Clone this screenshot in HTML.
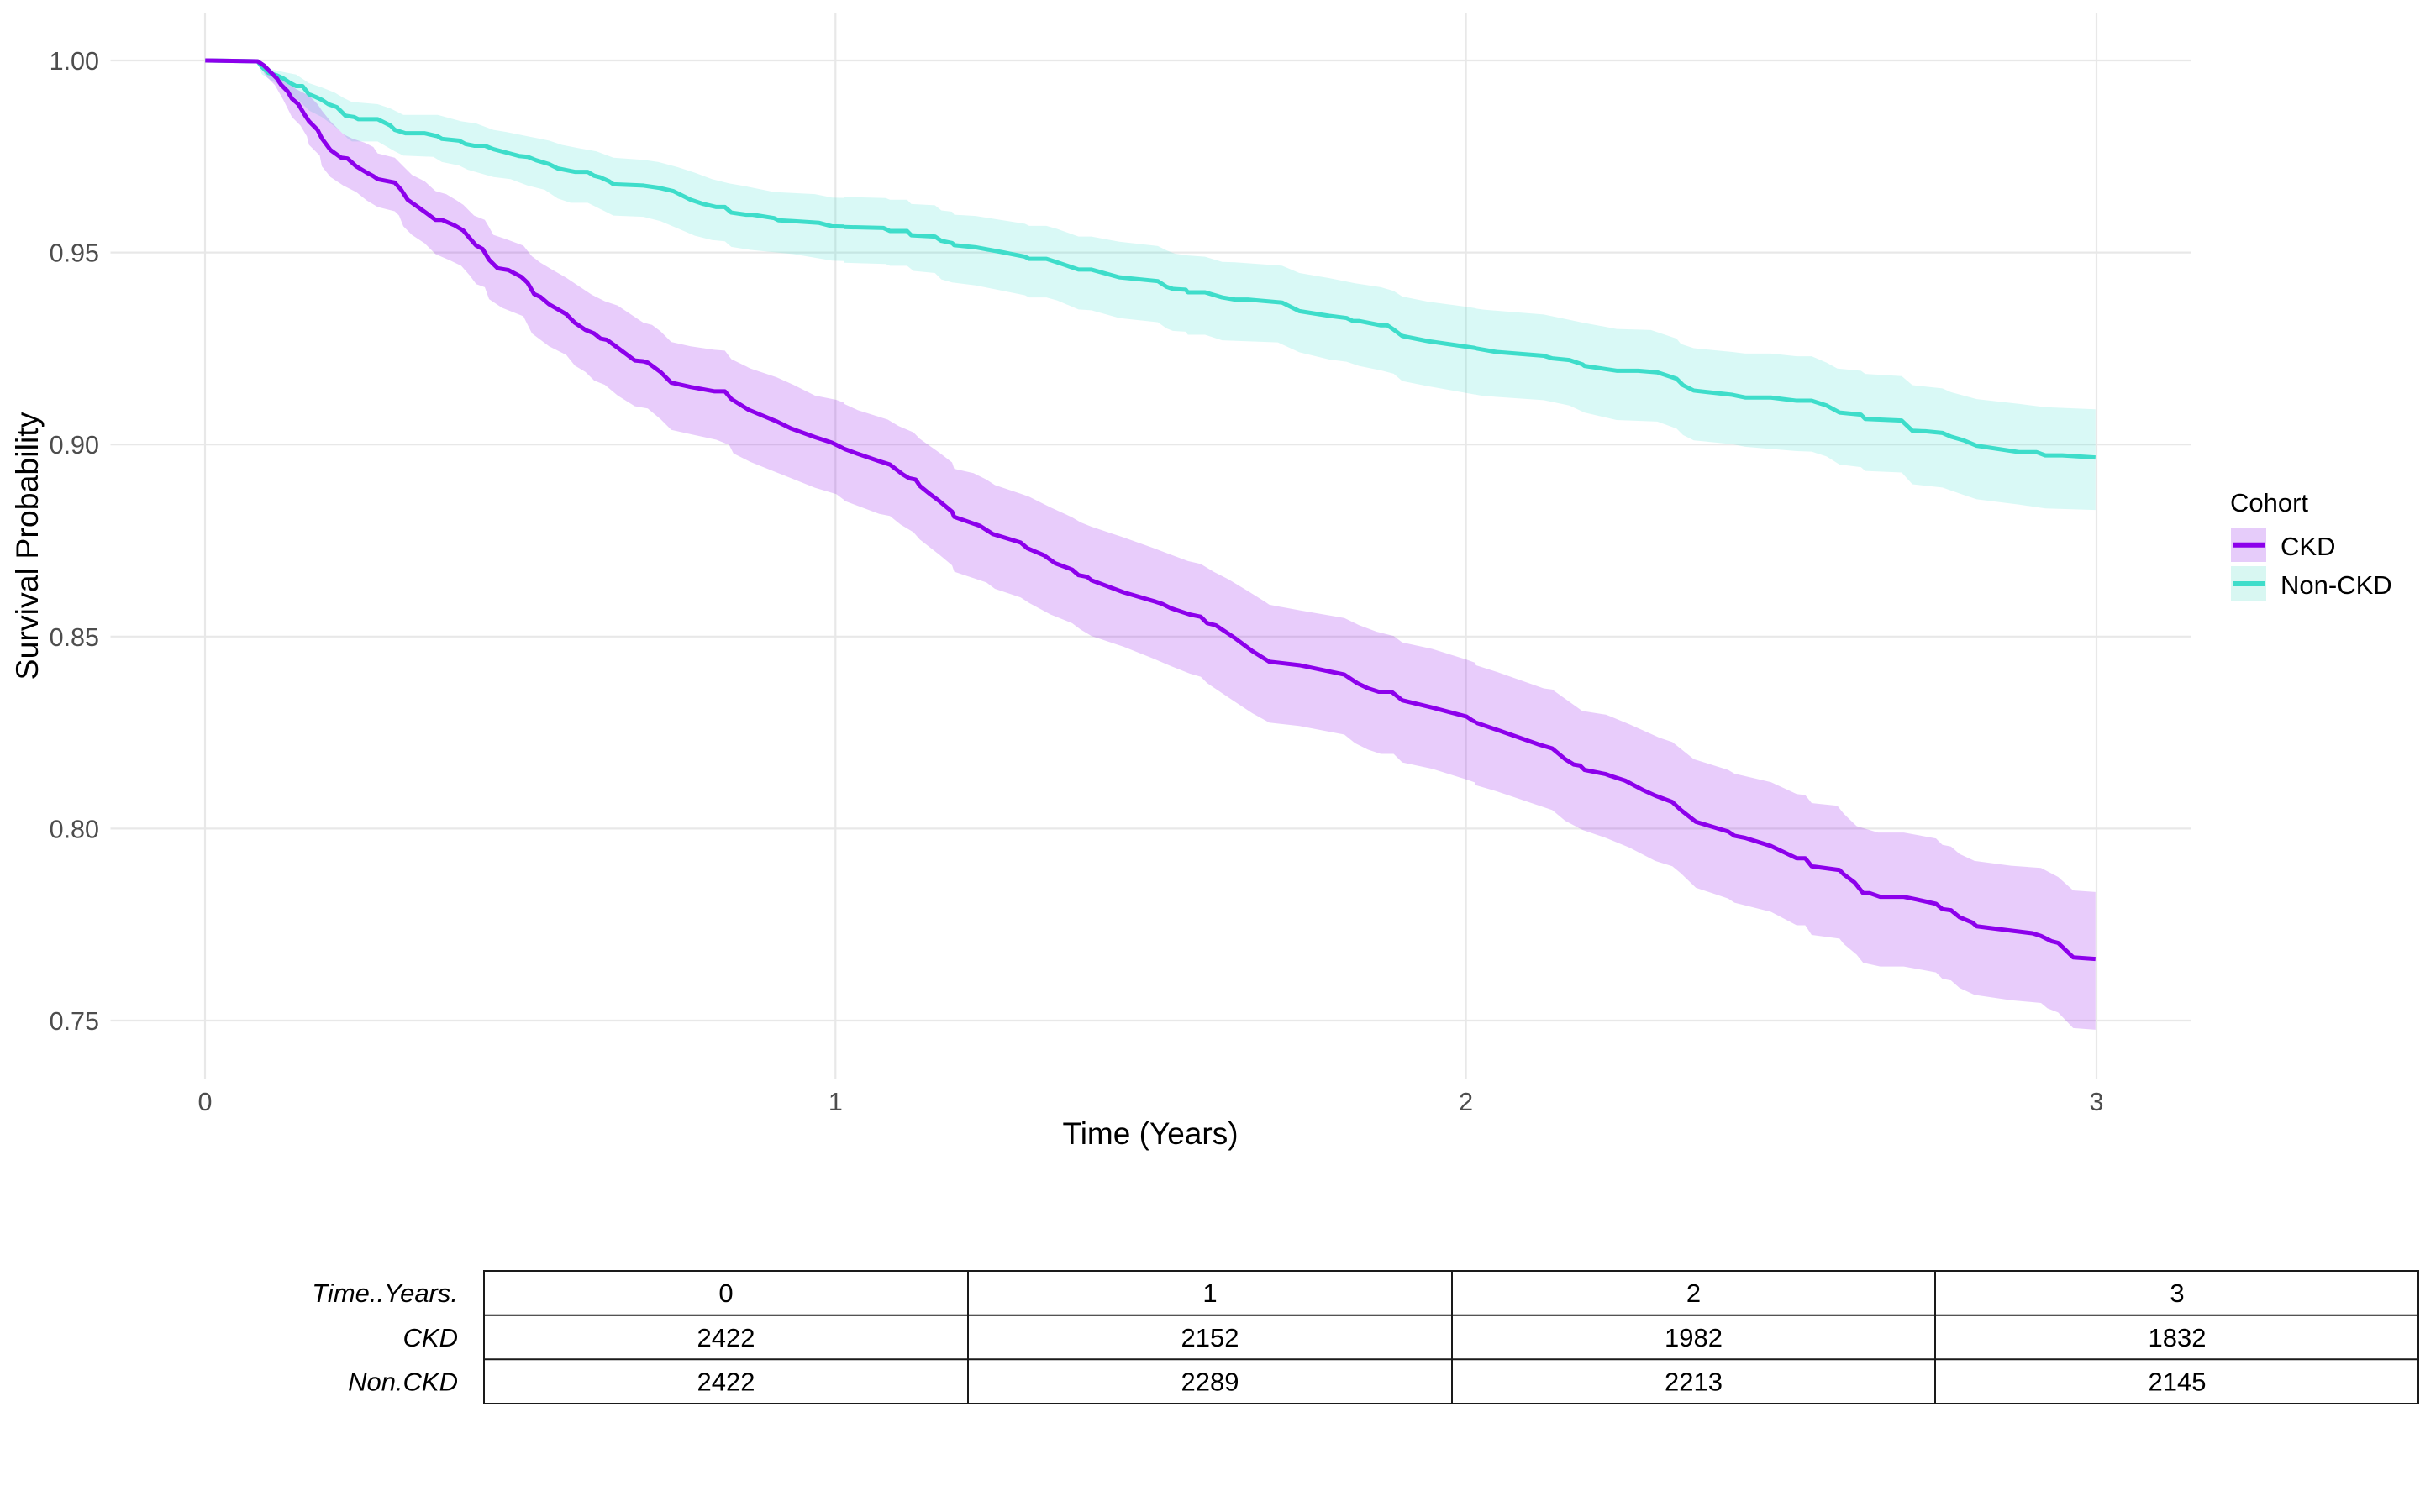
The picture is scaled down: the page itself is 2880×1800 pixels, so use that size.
<!DOCTYPE html>
<html>
<head>
<meta charset="utf-8">
<style>
  html,body{margin:0;padding:0;background:#fff;}
  svg{display:block;}
  text{font-family:"Liberation Sans",Arial,sans-serif;}
</style>
</head>
<body>
<svg width="2880" height="1800" viewBox="0 0 2880 1800" xmlns="http://www.w3.org/2000/svg">
  <rect x="0" y="0" width="2880" height="1800" fill="#fff"/>
  <defs>
    <clipPath id="cA"><rect x="0" y="0" width="1005" height="1300"/></clipPath>
    <clipPath id="cB"><rect x="1005" y="0" width="750" height="1300"/></clipPath>
    <clipPath id="cC"><rect x="1755" y="0" width="745" height="1300"/></clipPath>
  </defs>

  <!-- grid -->
  <g stroke="#E8E8E8" stroke-width="2.2" fill="none">
    <line x1="131.5" y1="72" x2="2607" y2="72"/>
    <line x1="131.5" y1="300.6" x2="2607" y2="300.6"/>
    <line x1="131.5" y1="529.2" x2="2607" y2="529.2"/>
    <line x1="131.5" y1="757.8" x2="2607" y2="757.8"/>
    <line x1="131.5" y1="986.4" x2="2607" y2="986.4"/>
    <line x1="131.5" y1="1215" x2="2607" y2="1215"/>
    <line x1="244" y1="15" x2="244" y2="1284"/>
    <line x1="994.3" y1="15" x2="994.3" y2="1284"/>
    <line x1="1744.6" y1="15" x2="1744.6" y2="1284"/>
    <line x1="2495" y1="15" x2="2495" y2="1284"/>
  </g>

  <!-- Zone A -->
  <g clip-path="url(#cA)">
    <g transform="translate(230,50) scale(0.5102)">
      <polygon fill="rgba(64,224,208,0.2)" points="28,40 150,42 165,58 175,62 210,70 240,76 255,86 270,96 300,106 330,118 350,130 370,140 430,145 460,155 490,170 570,170 625,185 660,190 700,205 730,210 780,220 830,230 860,240 900,248 940,255 980,270 1050,275 1085,280 1130,292 1170,305 1210,320 1250,330 1290,337 1355,350 1450,355 1490,363 1568,365 1568,513 1490,510 1400,495 1300,485 1255,478 1240,465 1210,462 1170,452 1130,435 1090,418 1050,408 980,405 960,395 920,375 880,375 850,365 820,345 780,335 740,320 700,315 640,298 620,288 580,280 560,268 490,265 470,255 430,232 370,232 360,225 340,205 300,175 270,160 250,140 225,120 200,100 175,85 160,75 150,48 28,46"/>
      <polygon fill="rgba(140,0,235,0.2)" points="28,40 150,44 165,52 180,65 200,80 220,95 240,110 270,125 290,145 300,160 320,185 350,215 370,225 400,235 420,245 430,260 470,270 490,290 510,310 540,325 565,348 590,355 615,370 630,380 655,405 680,415 690,432 700,450 730,460 770,475 790,500 810,515 835,530 870,550 900,570 930,590 960,605 990,615 1020,635 1050,655 1070,660 1090,675 1115,700 1160,710 1215,718 1240,720 1255,740 1300,762 1360,782 1400,800 1450,825 1500,835 1540,850 1568,857 1568,1090 1520,1070 1500,1055 1450,1040 1400,1020 1350,1000 1300,980 1260,960 1250,940 1220,928 1160,915 1115,905 1090,880 1060,855 1030,850 990,825 960,800 935,790 915,770 890,755 870,730 830,710 790,680 770,640 720,620 690,600 680,572 660,565 645,545 625,522 600,510 565,495 540,470 510,450 490,430 480,405 470,395 430,385 405,370 380,350 350,335 320,315 300,290 295,265 270,240 265,220 250,195 230,175 210,135 190,100 170,80 150,48 28,46"/>
      <polyline fill="none" stroke="#3EDDCA" stroke-width="5" vector-effect="non-scaling-stroke" stroke-linejoin="round" points="28,43 150,45 160,58 175,72 195,78 210,85 225,95 240,103 255,103 270,122 285,128 300,135 315,145 335,152 355,172 375,175 385,180 430,180 460,195 470,205 495,213 540,213 570,220 580,226 620,230 635,238 655,242 680,242 700,250 730,258 760,266 780,268 800,276 830,285 850,295 890,303 920,303 935,312 950,316 970,325 980,332 1050,335 1085,340 1120,348 1160,368 1190,378 1220,385 1240,385 1255,398 1290,403 1305,403 1355,411 1365,416 1400,418 1460,422 1490,430 1568,432"/>
      <polyline fill="none" stroke="#8C00EB" stroke-width="5" vector-effect="non-scaling-stroke" stroke-linejoin="round" points="28,43 150,45 165,55 180,70 195,85 205,100 220,115 230,132 245,145 260,170 270,185 290,205 300,225 320,252 345,270 360,272 380,290 405,305 420,313 430,320 470,328 485,345 500,368 520,382 545,400 565,415 580,415 610,428 630,440 645,458 660,475 675,483 690,508 710,528 735,532 765,548 780,562 795,588 810,595 830,612 870,635 890,655 915,672 935,680 950,692 965,695 980,706 1030,743 1050,745 1060,748 1090,770 1115,795 1160,805 1215,815 1240,815 1255,833 1295,858 1360,885 1395,902 1450,922 1490,935 1520,950 1568,968"/>
    </g>
  </g>

  <!-- Zone B -->
  <g clip-path="url(#cB)">
    <g transform="translate(980,150) scale(0.5102)">
      <polygon fill="rgba(64,224,208,0.2)" points="0,160 20,165 145,168 155,172 195,172 205,182 260,185 275,197 300,200 305,207 355,210 470,228 480,233 520,233 545,240 595,258 625,258 690,270 780,280 800,290 820,298 850,302 890,305 930,317 960,318 1070,326 1110,343 1180,355 1240,367 1300,376 1330,385 1350,398 1410,410 1500,422 1568,432 1568,635 1500,623 1410,607 1350,595 1330,578 1300,570 1250,560 1220,550 1180,545 1110,528 1060,505 930,500 890,487 850,487 845,480 815,478 800,472 780,458 690,448 625,430 595,428 545,407 520,400 480,400 470,395 420,385 355,372 300,365 275,358 260,343 210,338 195,326 155,326 145,322 20,318 0,312"/>
      <polygon fill="rgba(140,0,235,0.2)" points="0,630 30,640 80,663 150,685 175,700 210,715 225,730 270,762 300,785 305,800 350,810 380,825 400,838 460,858 480,865 530,890 580,913 600,925 625,935 700,960 770,985 810,1000 850,1015 880,1022 910,1040 945,1058 990,1085 1030,1110 1040,1117 1110,1130 1215,1148 1250,1165 1290,1180 1330,1190 1350,1205 1420,1220 1500,1245 1568,1270 1568,1548 1500,1525 1420,1500 1350,1485 1330,1465 1300,1465 1270,1455 1240,1440 1215,1420 1110,1400 1040,1392 1000,1370 950,1337 895,1300 880,1285 855,1278 810,1260 770,1243 700,1215 625,1190 600,1175 580,1160 530,1140 480,1113 460,1100 400,1080 380,1065 350,1055 305,1040 300,1025 270,1000 225,965 210,948 180,930 155,910 130,905 50,875 30,860 0,850"/>
      <polyline fill="none" stroke="#3EDDCA" stroke-width="5" vector-effect="non-scaling-stroke" stroke-linejoin="round" points="0,228 20,235 140,238 155,245 195,245 205,255 260,258 275,268 300,273 305,278 355,283 420,295 470,305 480,310 520,310 545,318 595,335 625,335 690,353 780,362 800,375 815,380 845,382 850,388 890,388 930,400 960,405 990,405 1070,412 1110,432 1180,443 1220,448 1235,455 1250,455 1300,465 1315,465 1330,475 1350,490 1410,502 1500,515 1568,525"/>
      <polyline fill="none" stroke="#8C00EB" stroke-width="5" vector-effect="non-scaling-stroke" stroke-linejoin="round" points="0,732 20,738 45,752 80,765 130,782 155,790 185,813 200,822 215,825 225,840 250,860 270,875 300,900 305,912 365,933 395,952 460,972 475,985 515,1002 540,1020 580,1035 595,1048 615,1052 625,1060 700,1088 775,1110 790,1115 810,1125 855,1140 880,1145 895,1160 915,1165 960,1195 1000,1225 1040,1250 1110,1258 1215,1280 1245,1300 1270,1312 1295,1320 1325,1320 1350,1340 1420,1357 1500,1378 1515,1388 1568,1405"/>
    </g>
  </g>

  <!-- Zone C -->
  <g clip-path="url(#cC)">
    <g transform="translate(1730,250) scale(0.5102,0.6378)">
      <polygon fill="rgba(64,224,208,0.2)" points="0,178 70,186 210,195 270,205 300,210 380,222 460,224 520,240 530,250 560,258 650,265 680,268 740,268 800,273 835,273 870,285 895,296 950,300 960,306 1045,310 1070,327 1140,333 1160,340 1220,353 1320,362 1380,368 1497,372 1497,560 1380,557 1320,550 1220,540 1190,532 1140,518 1070,512 1045,490 960,487 950,480 900,475 870,460 835,451 800,450 680,442 650,437 560,430 535,420 520,408 475,395 380,392 305,378 270,365 210,355 70,347 0,338"/>
      <polygon fill="rgba(140,0,235,0.2)" points="0,832 30,838 45,848 100,862 210,893 230,895 270,918 300,935 355,942 365,945 410,960 480,985 510,993 560,1025 640,1045 655,1052 740,1068 800,1090 820,1092 835,1107 895,1112 910,1127 940,1150 990,1162 1050,1162 1125,1173 1140,1185 1160,1188 1180,1202 1215,1215 1300,1224 1370,1228 1410,1245 1445,1270 1497,1273 1497,1530 1445,1527 1410,1498 1385,1490 1370,1480 1300,1475 1215,1465 1180,1452 1160,1438 1140,1435 1125,1423 1050,1412 995,1412 955,1405 940,1390 910,1370 900,1360 835,1353 820,1335 800,1335 740,1310 655,1293 640,1285 565,1265 530,1238 510,1225 470,1215 410,1190 355,1172 300,1157 260,1140 230,1120 100,1085 45,1072 30,1062 0,1055"/>
      <polyline fill="none" stroke="#3EDDCA" stroke-width="5" vector-effect="non-scaling-stroke" stroke-linejoin="round" points="0,252 30,258 50,258 100,265 210,272 230,277 270,280 300,288 305,291 380,300 430,300 475,303 520,315 535,327 560,337 650,345 680,350 740,350 800,356 835,356 870,365 900,378 950,382 960,390 1045,393 1070,412 1100,413 1140,416 1160,423 1190,430 1220,440 1320,452 1360,452 1380,458 1420,458 1497,462"/>
      <polyline fill="none" stroke="#8C00EB" stroke-width="5" vector-effect="non-scaling-stroke" stroke-linejoin="round" points="0,940 30,945 45,955 100,970 200,998 230,1005 260,1025 280,1035 295,1037 305,1045 355,1053 365,1056 400,1065 440,1082 470,1093 510,1105 530,1120 565,1142 640,1160 655,1168 680,1172 740,1187 800,1210 820,1210 835,1225 900,1232 910,1240 935,1255 955,1275 970,1275 995,1282 1050,1282 1080,1287 1125,1295 1140,1305 1160,1307 1180,1320 1210,1330 1220,1337 1300,1345 1350,1350 1370,1355 1395,1365 1410,1368 1445,1395 1497,1398"/>
    </g>
  </g>

  <!-- y tick labels -->
  <g font-size="30.5" fill="#4D4D4D" text-anchor="end">
    <text x="118" y="83">1.00</text>
    <text x="118" y="311.6">0.95</text>
    <text x="118" y="540.2">0.90</text>
    <text x="118" y="768.8">0.85</text>
    <text x="118" y="997.4">0.80</text>
    <text x="118" y="1226">0.75</text>
  </g>
  <!-- x tick labels -->
  <g font-size="30.5" fill="#4D4D4D" text-anchor="middle">
    <text x="244" y="1322">0</text>
    <text x="994.3" y="1322">1</text>
    <text x="1744.6" y="1322">2</text>
    <text x="2495" y="1322">3</text>
  </g>
  <!-- axis titles -->
  <text x="1369" y="1362" font-size="37" text-anchor="middle" fill="#000">Time (Years)</text>
  <text transform="translate(45,650) rotate(-90)" font-size="37.5" text-anchor="middle" fill="#000">Survival Probability</text>

  <!-- legend -->
  <text x="2654" y="609" font-size="31" fill="#000">Cohort</text>
  <rect x="2655" y="628" width="42" height="41" fill="#E6CCFA"/>
  <line x1="2658" y1="648.7" x2="2695" y2="648.7" stroke="#8C00EB" stroke-width="6"/>
  <rect x="2655" y="674" width="42" height="41" fill="#D8F7F2"/>
  <line x1="2658" y1="695" x2="2695" y2="695" stroke="#3EDDCA" stroke-width="6"/>
  <text x="2714" y="661" font-size="31" fill="#000">CKD</text>
  <text x="2714" y="707" font-size="31" fill="#000">Non-CKD</text>

  <!-- risk table -->
  <g stroke="#1a1a1a" stroke-width="2" fill="none">
    <rect x="576" y="1513" width="2302" height="158"/>
    <line x1="576" y1="1565.7" x2="2878" y2="1565.7"/>
    <line x1="576" y1="1618.3" x2="2878" y2="1618.3"/>
    <line x1="1152" y1="1513" x2="1152" y2="1671"/>
    <line x1="1728" y1="1513" x2="1728" y2="1671"/>
    <line x1="2303" y1="1513" x2="2303" y2="1671"/>
  </g>
  <g font-size="31" fill="#000" font-style="italic" text-anchor="end">
    <text x="545" y="1550">Time..Years.</text>
    <text x="545" y="1603">CKD</text>
    <text x="545" y="1655.5">Non.CKD</text>
  </g>
  <g font-size="31" fill="#000" text-anchor="middle">
    <text x="864" y="1550">0</text>
    <text x="1440" y="1550">1</text>
    <text x="2015.5" y="1550">2</text>
    <text x="2591" y="1550">3</text>
    <text x="864" y="1603">2422</text>
    <text x="1440" y="1603">2152</text>
    <text x="2015.5" y="1603">1982</text>
    <text x="2591" y="1603">1832</text>
    <text x="864" y="1655.5">2422</text>
    <text x="1440" y="1655.5">2289</text>
    <text x="2015.5" y="1655.5">2213</text>
    <text x="2591" y="1655.5">2145</text>
  </g>
</svg>
</body>
</html>
